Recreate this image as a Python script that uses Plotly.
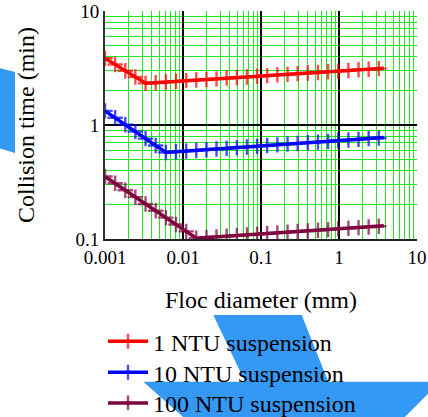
import plotly.graph_objects as go

# ---- data ----
floc_diameter_mm = [0.001, 0.00135, 0.00182, 0.00245, 0.00331, 0.00447, 0.00603, 0.00813,
                    0.0110, 0.0148, 0.0200, 0.0269, 0.0363, 0.0490, 0.0661, 0.0891, 0.120,
                    0.162, 0.219, 0.295, 0.398, 0.537, 0.724, 0.977, 1.32, 1.78, 2.40, 3.24, 3.75]

ntu1_time = [3.85, 3.39, 2.99, 2.64, 2.32, 2.35, 2.38, 2.42, 2.45, 2.48, 2.51, 2.54, 2.58,
             2.61, 2.64, 2.68, 2.71, 2.75, 2.78, 2.82, 2.86, 2.89, 2.93, 2.97, 3.01, 3.05,
             3.08, 3.12, 3.14]

ntu10_time = [1.33, 1.157, 1.006, 0.875, 0.760, 0.661, 0.574, 0.582, 0.590, 0.598, 0.607,
              0.615, 0.624, 0.633, 0.641, 0.650, 0.660, 0.669, 0.679, 0.689, 0.698, 0.708,
              0.718, 0.728, 0.738, 0.748, 0.759, 0.769, 0.775]

ntu100_time = [0.353, 0.308, 0.268, 0.233, 0.203, 0.177, 0.154, 0.134, 0.1167, 0.1016,
               0.1030, 0.1044, 0.1058, 0.1072, 0.1086, 0.1101, 0.1116, 0.1131, 0.1146,
               0.1162, 0.1177, 0.1193, 0.1209, 0.1226, 0.1242, 0.1259, 0.1276, 0.1294, 0.1305]

series_names = ["1 NTU suspension", "10 NTU suspension", "100 NTU suspension"]
series_colors = ["#ff0000", "#0000ff", "#800040"]

x_tick_vals = [0.001, 0.01, 0.1, 1, 10]
x_tick_text = ["0.001", "0.01", "0.1", "1", "10"]
y_tick_vals = [0.1, 1, 10]
y_tick_text = ["0.1", "1", "10"]

FONT = "Liberation Serif"

# layout geometry (pixels)
W, H = 428, 417
ML, MR, MT, MB = 105, 11, 11, 178
PW, PH = W - ML - MR, H - MT - MB


def px(x, y):
    return (x - ML) / PW, (H - MB - y) / PH


def path(points):
    pts = [px(a, b) for a, b in points]
    return "M " + " L ".join(f"{a:.4f},{b:.4f}" for a, b in pts) + " Z"


fig = go.Figure()

legend_ids = ["legend", "legend2", "legend3"]
legend_centers_px = [341.7, 372.7, 403.3]

n = len(floc_diameter_mm)
sizes = [11] * (n - 1) + [0]
for name, color, vals, lid in zip(series_names, series_colors,
                                  [ntu1_time, ntu10_time, ntu100_time], legend_ids):
    fig.add_trace(go.Scatter(
        x=floc_diameter_mm, y=vals, name=name, mode="lines+markers",
        line=dict(color=color, width=3.5),
        marker=dict(symbol="cross-thin", size=sizes, color=color,
                    line=dict(color=color, width=2.4)),
        legend=lid,
    ))

minor_x = [m * 10 ** e for e in range(-3, 1) for m in range(2, 10)]
minor_y = [m * 10 ** e for e in range(-1, 1) for m in range(2, 10)]

GREEN = "#22e622"

fig.update_xaxes(
    type="log", range=[-3, 1], tickmode="array", tickvals=x_tick_vals, ticktext=x_tick_text,
    showgrid=True, gridcolor="black", gridwidth=1.8,
    minor=dict(tickmode="array", tickvals=minor_x, showgrid=True, gridcolor=GREEN, gridwidth=1, ticks=""),
    showline=True, linecolor="#222", linewidth=2, ticks="", zeroline=False,
    tickfont=dict(family=FONT, size=19, color="black"),
    title=dict(text="Floc diameter (mm)", font=dict(family=FONT, size=24, color="black"), standoff=24),
    automargin=False,
)
fig.update_yaxes(
    type="log", range=[-1, 1], tickmode="array", tickvals=y_tick_vals, ticktext=y_tick_text,
    showgrid=True, gridcolor="black", gridwidth=1.8,
    minor=dict(tickmode="array", tickvals=minor_y, showgrid=True, gridcolor=GREEN, gridwidth=1, ticks=""),
    showline=True, linecolor="#333", linewidth=2, ticks="", zeroline=False,
    tickfont=dict(family=FONT, size=19, color="black"),
    title=dict(text="Collision time (min)", font=dict(family=FONT, size=24, color="black"), standoff=34),
    automargin=False,
)

# decorative blue shapes present in the reference image
BLUE = "#3399f5"
left_blob = [(-5, 67), (15, 72), (15, 153), (-5, 147)]
arrow = [(213.3, 315), (301.7, 315), (328.3, 381.7), (440, 381.7), (390, 432),
         (200, 432), (143.3, 381.7), (245, 381.7)]
for shp in (left_blob, arrow):
    fig.add_shape(type="path", path=path(shp), xref="paper", yref="paper",
                  fillcolor=BLUE, line=dict(width=0), layer="below")

legend_style = dict(xanchor="left", yanchor="middle",
                    font=dict(family=FONT, size=24, color="black"),
                    bgcolor="rgba(0,0,0,0)", itemwidth=40)
legends = {}
for lid, cy in zip(legend_ids, legend_centers_px):
    legends[lid] = dict(x=px(103, 0)[0], y=px(0, cy)[1], **legend_style)

fig.update_layout(
    width=W, height=H,
    margin=dict(l=ML, r=MR, t=MT, b=MB, autoexpand=False),
    paper_bgcolor="white", plot_bgcolor="white",
    font=dict(family=FONT, color="black"),
    showlegend=True,
    **legends,
)

fig.write_html("out.html", config={"displayModeBar": False},
               post_script="document.body.style.margin='0px';")
